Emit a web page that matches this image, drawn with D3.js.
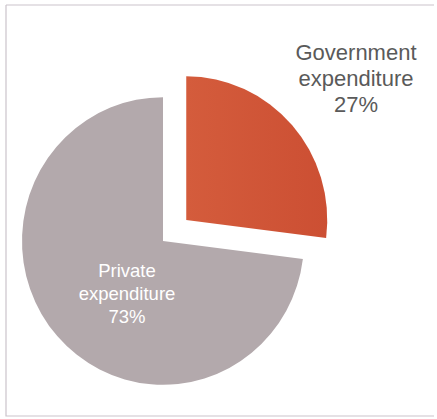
<!DOCTYPE html>
<html>
<head>
<meta charset="utf-8">
<script src="https://cdn.jsdelivr.net/npm/d3@7/dist/d3.min.js"></script>
<style>
  html, body { margin: 0; padding: 0; background: #fff; }
  svg { display: block; }
</style>
</head>
<body>
<svg id="chart" width="437" height="419"></svg>
<script>
// Share of total health expenditure
const categories = ["Government expenditure", "Private expenditure"];
const values = [27, 73];
const labelLines = [["Government", "expenditure", "27%"], ["Private", "expenditure", "73%"]];
const colors = ["#cf5536", "#b3a9ac"];

const svg = d3.select("#chart");

// thin frame around the figure
svg.append("path")
  .attr("d", "M6,5H434M6,5V416H434")
  .attr("fill", "none")
  .attr("stroke", "#cbc3cb")
  .attr("stroke-width", 1.2);

const cx = 163, cy = 241, r = 141, yStretch = 1.02, explode = 31;

const pie = d3.pie().sort(null).value(d => d)(values);
const arc = d3.arc().innerRadius(0).outerRadius(r);

const g = svg.append("g").attr("transform", `translate(${cx},${cy}) scale(1,${yStretch})`);

// subtle warm gradient on the highlighted slice
const defs = svg.append("defs");
const grad = defs.append("linearGradient").attr("id", "govGrad")
  .attr("x1", "0").attr("y1", "0").attr("x2", "1").attr("y2", "0");
grad.append("stop").attr("offset", "0").attr("stop-color", "#d45c3c");
grad.append("stop").attr("offset", "1").attr("stop-color", "#cc4f33");

g.selectAll("path.slice")
  .data(pie)
  .join("path")
  .attr("class", "slice")
  .attr("d", arc)
  .attr("fill", (d, i) => i === 0 ? "url(#govGrad)" : colors[i])
  .attr("transform", (d, i) => {
    if (i !== 0) return null;
    const mid = (d.startAngle + d.endAngle) / 2;
    return `translate(${explode * Math.sin(mid)},${-explode * Math.cos(mid)})`;
  });

// Government label, outside the exploded slice
const govLabel = svg.append("text")
  .attr("x", 356).attr("y", 60)
  .attr("text-anchor", "middle")
  .attr("font-family", "Liberation Sans, Arial, sans-serif")
  .attr("font-size", 22)
  .attr("fill", "#5a5a5a");
labelLines[0].forEach((t, i) => {
  govLabel.append("tspan").attr("x", 356).attr("dy", i === 0 ? 0 : 26).text(t);
});

// Private label, inside the grey slice
const privLabel = svg.append("text")
  .attr("x", 127).attr("y", 277)
  .attr("text-anchor", "middle")
  .attr("font-family", "Liberation Sans, Arial, sans-serif")
  .attr("font-size", 18.5)
  .attr("fill", "#ffffff");
labelLines[1].forEach((t, i) => {
  privLabel.append("tspan").attr("x", 127).attr("dy", i === 0 ? 0 : 23).text(t);
});
</script>
</body>
</html>
